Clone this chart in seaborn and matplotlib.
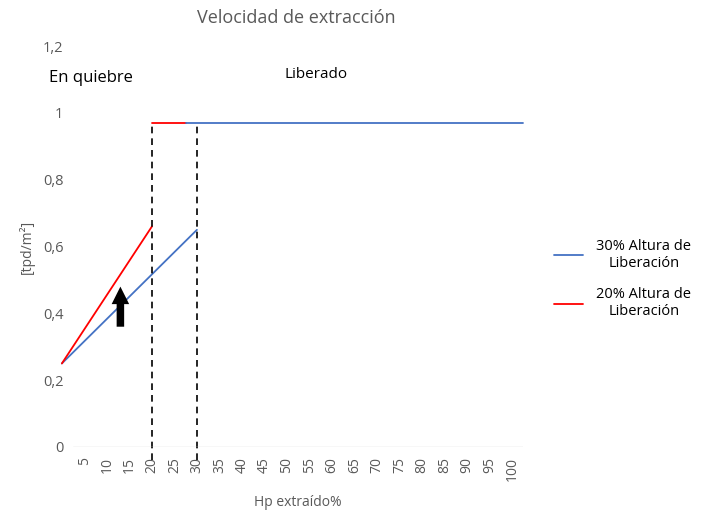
import matplotlib
matplotlib.use("Agg")
import matplotlib.pyplot as plt
import seaborn as sns
import pandas as pd
from matplotlib.lines import Line2D

sns.set_theme(style="white")
plt.rcParams['font.family'] = ['Open Sans', 'DejaVu Sans']

# Data
blue_rise_x = [0, 30]
blue_rise_y = [0.25, 0.65]
red_rise_x = [0, 20]
red_rise_y = [0.25, 0.66]
red_flat_x = [20, 27.5]
red_flat_y = [0.97, 0.97]
blue_flat_x = [27.5, 102.5]
blue_flat_y = [0.97, 0.97]
break_x = [20, 30]
break_top = 0.97
x_ticks = list(range(5, 105, 5))
y_ticks = [0, 0.2, 0.4, 0.6, 0.8, 1.0, 1.2]
y_tick_labels = ["0", "0,2", "0,4", "0,6", "0,8", "1", "1,2"]
series_labels = ["30% Altura de\nLiberación", "20% Altura de\nLiberación"]

BLUE = "#4472C4"
RED = "#FF0000"
GREY = "#595959"

fig = plt.figure(figsize=(7.1, 5.12), dpi=100)
ax = fig.add_axes([0.103, 0.127, 0.634, 0.783])

segs = [
    (blue_rise_x, blue_rise_y, BLUE),
    (red_rise_x, red_rise_y, RED),
    (red_flat_x, red_flat_y, RED),
    (blue_flat_x, blue_flat_y, BLUE),
]
for xs, ys, c in segs:
    df = pd.DataFrame({"x": xs, "y": ys})
    sns.lineplot(data=df, x="x", y="y", ax=ax, color=c, lw=1.3, clip_on=False, legend=False)

for bx in break_x:
    ax.plot([bx, bx], [-0.04, break_top], color="black", ls=(0, (4, 3)), lw=1.2, clip_on=False)

ax.annotate("", xy=(13, 0.48), xytext=(13, 0.36),
            arrowprops=dict(arrowstyle="simple,head_width=0.7,head_length=0.7,tail_width=0.3",
                            color="black", lw=0, mutation_scale=18,
                            shrinkA=0, shrinkB=0))

ax.axhline(0, color="#D9D9D9", lw=1)
ax.set_xlim(2.5, 102.5)
ax.set_ylim(0, 1.2)
ax.set_xticks(x_ticks)
ax.set_xticklabels([str(v) for v in x_ticks], rotation=90, color=GREY, fontsize=10)
ax.set_yticks(y_ticks)
ax.set_yticklabels(y_tick_labels, color=GREY, fontsize=10.5)
ax.tick_params(axis="both", length=0, pad=7)
for s in ax.spines.values():
    s.set_visible(False)

ax.set_xlabel("Hp extraído%", color=GREY, fontsize=10, labelpad=10)
ax.set_ylabel("[tpd/m²]", color=GREY, fontsize=10, labelpad=6)
fig.text(0.418, 0.965, "Velocidad de extracción", ha="center", va="center", color=GREY, fontsize=13)

ax.text(6.5, 1.105, "En quiebre", ha="center", va="center", fontsize=12, color="black")
ax.text(56.5, 1.115, "Liberado", ha="center", va="center", fontsize=11, color="black")

handles = [Line2D([0], [0], color=BLUE, lw=1.3), Line2D([0], [0], color=RED, lw=1.3)]
leg = fig.legend(handles, series_labels, loc="center left", bbox_to_anchor=(0.762, 0.455),
                 frameon=False, fontsize=10.5, handlelength=2.0, handletextpad=0.9,
                 labelspacing=1.1)
for t in leg.get_texts():
    t.set_multialignment("center")
    t.set_color("black")

fig.savefig("out.png", dpi=100)
